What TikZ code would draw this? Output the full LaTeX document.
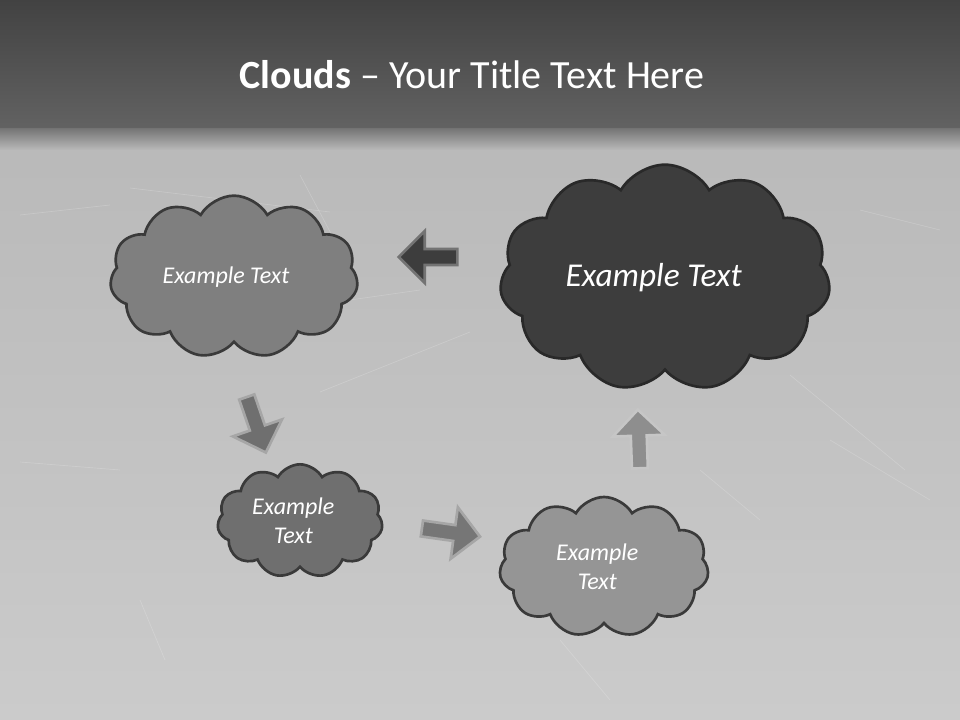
\documentclass[tikz,border=0pt]{standalone}
\usepackage{fontspec}
\setmainfont{Carlito}
\usetikzlibrary{shapes.symbols}
\usetikzlibrary{shapes.arrows}

\definecolor{headtop}{HTML}{424242}
\definecolor{headbot}{HTML}{626262}
\definecolor{boardtop}{HTML}{B9B9B9}
\definecolor{boardbot}{HTML}{CBCBCB}
\definecolor{edge}{HTML}{3A3A3A}
\definecolor{cloudA}{HTML}{7F7F7F}
\definecolor{cloudB}{HTML}{3D3D3D}
\definecolor{cloudC}{HTML}{6F6F6F}
\definecolor{cloudD}{HTML}{959595}

\tikzset{
  puffy/.style={cloud, cloud puffs=11, cloud puff arc=120, cloud ignores aspect,
    line width=2pt, draw=edge, inner sep=0pt, text=white, align=center},
  blockarrow/.style={single arrow, single arrow head extend=13.5pt,
    single arrow tip angle=90, minimum height=44pt,
    inner xsep=0pt, inner ysep=5pt, line width=2pt}
}

\begin{document}
\begin{tikzpicture}[x=0.75pt,y=-0.75pt]
\useasboundingbox (0,0) rectangle (960,720);
\shade[top color=boardtop, bottom color=boardbot] (0,128) rectangle (960,720);
\shade[top color=headbot!80!boardtop, bottom color=boardtop] (0,128) rectangle (960,150);
\shade[top color=headtop, bottom color=headbot] (0,0) rectangle (960,128);
% scratches
\foreach \a/\b/\c/\d in {20/215/110/205, 130/188/330/212, 300/175/345/260, 320/392/470/332,
  20/462/120/470, 790/375/905/470, 830/440/930/500, 560/640/610/700,
  140/600/165/660, 350/300/420/290, 700/470/760/520, 860/210/940/230}
  \draw[white, opacity=.18, line width=.5pt] (\a,\b) -- (\c,\d);

\node[text=white, font=\fontsize{30}{36}\selectfont] (title) at (472,75)
  {\textbf{Clouds} -- Your Title Text Here};

\node[puffy, fill=cloudA, minimum width=186pt, minimum height=122pt,
  font=\itshape\fontsize{18}{21.6}\selectfont] (topleft) at (234,277)
  {Example Text\hspace*{12pt}};
\node[puffy, fill=cloudB, draw=edge!70!black, minimum width=248pt, minimum height=170pt,
  font=\itshape\fontsize{25}{30}\selectfont] (big) at (665,278)
  {Example Text\hspace*{17pt}};
\node[puffy, fill=cloudC, minimum width=124pt, minimum height=85pt,
  font=\itshape\fontsize{18}{21.6}\selectfont] (small) at (300,521)
  {Example\hspace*{10pt}\\Text\hspace*{10pt}};
\node[puffy, fill=cloudD, minimum width=157pt, minimum height=105pt,
  font=\itshape\fontsize{18}{21.6}\selectfont] (botright) at (604,567)
  {Example\hspace*{10pt}\\Text\hspace*{10pt}};

\node[blockarrow, fill=cloudB, draw=gray!90!black, rotate=180] (toleft) at (432,257) {};
\node[blockarrow, fill=cloudC, draw=gray!70, rotate=-71] (todown) at (255,421) {};
\node[blockarrow, fill=cloudC!95!white, draw=gray!70, rotate=-8] (toright) at (447,532) {};
\node[blockarrow, fill=cloudD!95!black, draw=gray!45, rotate=92] (toup) at (639,443) {};
\end{tikzpicture}
\end{document}
